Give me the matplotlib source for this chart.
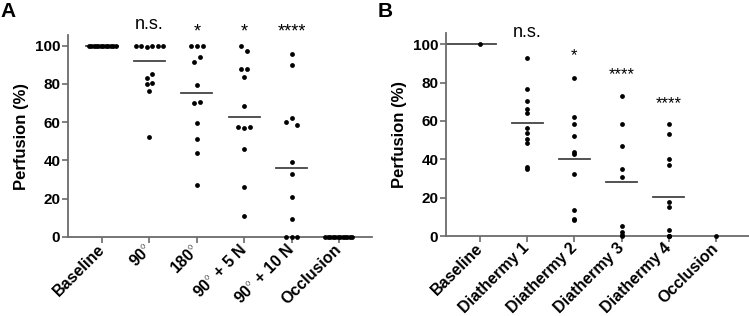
import matplotlib
matplotlib.use("Agg")
import matplotlib.pyplot as plt
import numpy as np

plt.rcParams['font.family'] = ['Liberation Sans', 'DejaVu Sans']
plt.rcParams['mathtext.fontset'] = 'custom'
plt.rcParams['mathtext.rm'] = 'Liberation Sans'

# ---------------- data ----------------
cats_A = ['Baseline', r'90$^{\circ}$', r'180$^{\circ}$', r'90$^{\circ}$ + 5 N',
          r'90$^{\circ}$ + 10 N', 'Occlusion']
baseline_A = [100] * 12
deg90_A = [100, 100, 99, 100, 100, 100, 83, 85, 80.1, 80.5, 76.1, 52]
deg180_A = [100, 100, 100, 91.5, 94.1, 79.6, 70, 70.7, 59.8, 51, 43.7, 27.4]
deg90_5N_A = [100, 97, 87.5, 87.5, 83.4, 68.5, 57.3, 57, 57.3, 46, 26, 11]
deg90_10N_A = [95.5, 89.7, 59.9, 62.2, 58.4, 39, 32.9, 21.1, 9.6, 0, 0, 0]
occlusion_A = [0] * 12
groups_A = [baseline_A, deg90_A, deg180_A, deg90_5N_A, deg90_10N_A, occlusion_A]
sig_A = ['', 'n.s.', '*', '*', '****', '']

cats_B = ['Baseline', 'Diathermy 1', 'Diathermy 2', 'Diathermy 3', 'Diathermy 4', 'Occlusion']
baseline_B = [100]
dia1_B = [92.7, 76.9, 70.2, 66.1, 64, 56.5, 53.6, 50.8, 48.4, 36.2, 35]
dia2_B = [82.3, 61.9, 58.4, 52, 43.6, 42.6, 32.3, 13.7, 8.9, 8.2]
dia3_B = [73.2, 58.4, 47.1, 35.1, 30.9, 5.2, 2.1, 0.7, 0]
dia4_B = [58.6, 53.4, 40, 36.9, 17.6, 15.3, 3, 0.2, 0, 0, 0]
occlusion_B = [0]
groups_B = [baseline_B, dia1_B, dia2_B, dia3_B, dia4_B, occlusion_B]
sig_B = ['', 'n.s.', '*', '****', '****', '']

# ---------------- helpers ----------------
def swarm_offsets(vals, d=0.122, maxw=0.57, thr=3.9):
    order = sorted(range(len(vals)), key=lambda k: -vals[k])
    rows, cur, start = [], [], None
    for k in order:
        if start is None or start - vals[k] > thr:
            if cur:
                rows.append(cur)
            cur, start = [k], vals[k]
        else:
            cur.append(k)
    if cur:
        rows.append(cur)
    off = np.zeros(len(vals))
    for r in rows:
        r = sorted(r)
        n = len(r)
        s = d if n == 1 else min(d, maxw / (n - 1))
        for j, k in enumerate(r):
            off[k] = (j - (n - 1) / 2) * s
    return off

W, H = 749, 316
fig = plt.figure(figsize=(W / 100, H / 100), dpi=100)
spine_c = '#6b6b6b'
line_c = '#444444'

def style_axes(ax, ytop):
    ax.set_xlim(-0.72, 5.7)
    ax.set_ylim(0, ytop)
    for s in ['top', 'right']:
        ax.spines[s].set_visible(False)
    for s in ['left', 'bottom']:
        ax.spines[s].set_color(spine_c)
        ax.spines[s].set_linewidth(1.3)
    ax.set_yticks([0, 20, 40, 60, 80, 100])
    ax.tick_params(axis='both', colors=spine_c, width=1.2, length=4.5,
                   labelcolor='black', labelsize=11)
    ax.tick_params(axis='y', pad=1)
    ax.tick_params(axis='x', pad=2.5)
    for lbl in ax.get_yticklabels():
        lbl.set_fontweight('bold')
    ax.set_ylabel('Perfusion (%)', fontsize=12, fontweight='bold', labelpad=4)

# Panel A
axA = fig.add_axes([68 / W, 1 - 237 / H, (372 - 68) / W, (237 - 35) / H])
style_axes(axA, 105.5)
for i, vals in enumerate(groups_A):
    med = np.median(vals)
    axA.plot([i - 0.33, i + 0.33], [med, med], color=line_c, lw=1.3, zorder=2)
    off = swarm_offsets(vals)
    axA.scatter(i + off, vals, s=12, color='black', zorder=3, clip_on=False, linewidths=0)
axA.set_xticks(range(len(cats_A)))
axA.set_xticklabels(cats_A, rotation=45, ha='right', va='center', rotation_mode='anchor',
                    fontsize=11.5, fontweight='bold')
ann_y_A = [0, 108.4, 104.8, 104.8, 104.8, 0]
for i, t in enumerate(sig_A):
    if t:
        axA.text(i, ann_y_A[i], t, ha='center', va='baseline', fontsize=13, clip_on=False)

# Panel B
axB = fig.add_axes([446 / W, 1 - 236 / H, (749 - 446) / W, (236 - 33) / H])
style_axes(axB, 105.9)
for i, vals in enumerate(groups_B):
    mean = np.mean(vals)
    lo = axB.get_xlim()[0] if i == 0 else i - 0.33
    if mean > 0:
        axB.plot([lo, i + 0.33], [mean, mean], color=line_c, lw=1.3, zorder=2)
    axB.scatter([i] * len(vals), vals, s=12, color='black', zorder=3, clip_on=False, linewidths=0)
axB.set_xticks(range(len(cats_B)))
axB.set_xticklabels(cats_B, rotation=45, ha='right', va='center', rotation_mode='anchor',
                    fontsize=11.5, fontweight='bold')
ann_y_B = [0, 103.6, 91.6, 81.8, 66.8, 0]
ann_fs_B = [0, 13, 12, 12, 12, 0]
for i, t in enumerate(sig_B):
    if t:
        axB.text(i, ann_y_B[i], t, ha='center', va='baseline', fontsize=ann_fs_B[i], clip_on=False)

fig.text(0.0, 0.995, 'A', ha='left', va='top', fontsize=15, fontweight='bold')
fig.text(378 / W, 0.995, 'B', ha='left', va='top', fontsize=15, fontweight='bold')

fig.savefig('out.png', dpi=100)
